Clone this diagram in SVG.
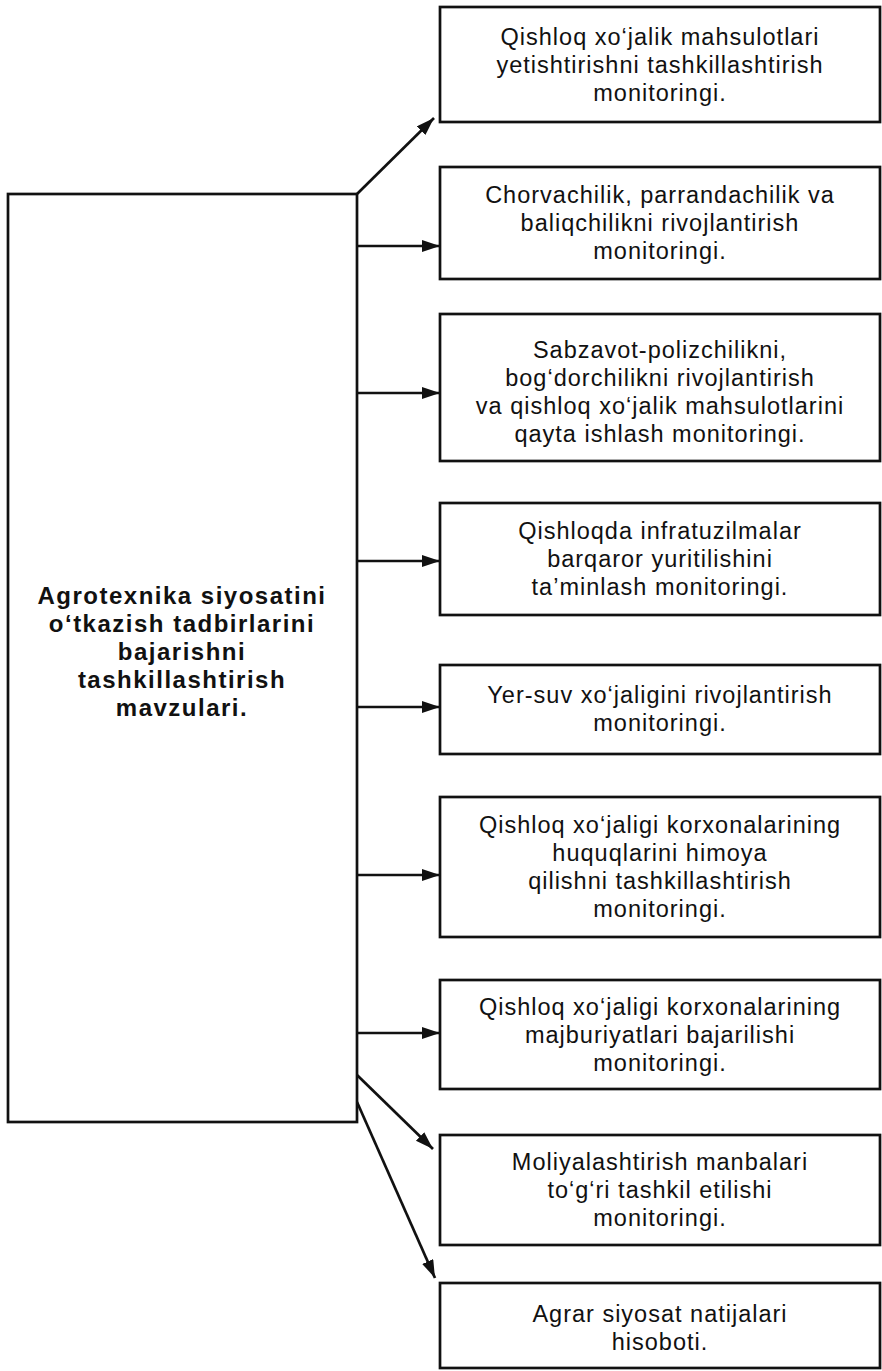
<svg xmlns="http://www.w3.org/2000/svg" width="882" height="1371" viewBox="0 0 882 1371">
<style>
  .box { fill: #ffffff; stroke: #111111; stroke-width: 2.7; }
  .t { font-family: "Liberation Sans", Arial, Helvetica, sans-serif; font-size: 23.5px; letter-spacing: 1px; fill: #111111; text-anchor: middle; }
  .tb { font-family: "Liberation Sans", Arial, Helvetica, sans-serif; font-size: 24px; font-weight: bold; letter-spacing: 1.5px; fill: #111111; text-anchor: middle; }
  .c { fill: none; stroke: #111111; stroke-width: 2.7; marker-end: url(#ah); }
</style>
<defs>
  <marker id="ah" markerUnits="userSpaceOnUse" markerWidth="19" markerHeight="13" refX="18" refY="6" orient="auto">
    <path d="M0,0 L18,6 L0,12 z" fill="#111111"/>
  </marker>
</defs>
<rect width="882" height="1371" fill="#ffffff"/>

<g id="connectors">
  <path class="c" d="M357,194 L434,118"/>
  <path class="c" d="M357,246 L440,246"/>
  <path class="c" d="M357,393 L440,393"/>
  <path class="c" d="M357,561 L440,561"/>
  <path class="c" d="M357,707 L440,707"/>
  <path class="c" d="M357,875 L440,875"/>
  <path class="c" d="M357,1033 L440,1033"/>
  <path class="c" d="M357,1075 L433,1149"/>
  <path class="c" d="M357,1102 L435,1278"/>
</g>

<g id="main">
  <rect class="box" x="8" y="194" width="349" height="928"/>
  <text class="tb" x="182" y="604">Agrotexnika siyosatini</text>
  <text class="tb" x="182" y="632">o‘tkazish tadbirlarini</text>
  <text class="tb" x="182" y="660">bajarishni</text>
  <text class="tb" x="182" y="688">tashkillashtirish</text>
  <text class="tb" x="182" y="716">mavzulari.</text>
</g>

<g id="n1">
  <rect class="box" x="440" y="7" width="440" height="115"/>
  <text class="t" x="660" y="45">Qishloq xo‘jalik mahsulotlari</text>
  <text class="t" x="660" y="73">yetishtirishni tashkillashtirish</text>
  <text class="t" x="660" y="101">monitoringi.</text>
</g>

<g id="n2">
  <rect class="box" x="440" y="167" width="440" height="112"/>
  <text class="t" x="660" y="203">Chorvachilik, parrandachilik va</text>
  <text class="t" x="660" y="231">baliqchilikni rivojlantirish</text>
  <text class="t" x="660" y="259">monitoringi.</text>
</g>

<g id="n3">
  <rect class="box" x="440" y="314" width="440" height="147"/>
  <text class="t" x="660" y="358">Sabzavot-polizchilikni,</text>
  <text class="t" x="660" y="386">bog‘dorchilikni rivojlantirish</text>
  <text class="t" x="660" y="414">va qishloq xo‘jalik mahsulotlarini</text>
  <text class="t" x="660" y="442">qayta ishlash monitoringi.</text>
</g>

<g id="n4">
  <rect class="box" x="440" y="503" width="440" height="112"/>
  <text class="t" x="660" y="539">Qishloqda infratuzilmalar</text>
  <text class="t" x="660" y="567">barqaror yuritilishini</text>
  <text class="t" x="660" y="595">ta’minlash monitoringi.</text>
</g>

<g id="n5">
  <rect class="box" x="440" y="665" width="440" height="89"/>
  <text class="t" x="660" y="703">Yer-suv xo‘jaligini rivojlantirish</text>
  <text class="t" x="660" y="731">monitoringi.</text>
</g>

<g id="n6">
  <rect class="box" x="440" y="797" width="440" height="140"/>
  <text class="t" x="660" y="833">Qishloq xo‘jaligi korxonalarining</text>
  <text class="t" x="660" y="861">huquqlarini himoya</text>
  <text class="t" x="660" y="889">qilishni tashkillashtirish</text>
  <text class="t" x="660" y="917">monitoringi.</text>
</g>

<g id="n7">
  <rect class="box" x="440" y="980" width="440" height="109"/>
  <text class="t" x="660" y="1015">Qishloq xo‘jaligi korxonalarining</text>
  <text class="t" x="660" y="1043">majburiyatlari bajarilishi</text>
  <text class="t" x="660" y="1071">monitoringi.</text>
</g>

<g id="n8">
  <rect class="box" x="440" y="1135" width="440" height="110"/>
  <text class="t" x="660" y="1170">Moliyalashtirish manbalari</text>
  <text class="t" x="660" y="1198">to‘g‘ri tashkil etilishi</text>
  <text class="t" x="660" y="1226">monitoringi.</text>
</g>

<g id="n9">
  <rect class="box" x="440" y="1283" width="440" height="85"/>
  <text class="t" x="660" y="1322">Agrar siyosat natijalari</text>
  <text class="t" x="660" y="1350">hisoboti.</text>
</g>
</svg>
